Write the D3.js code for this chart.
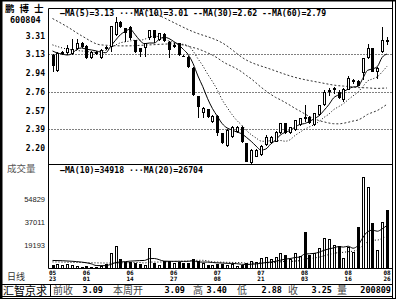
<!DOCTYPE html>
<html><head><meta charset="utf-8">
<script src="https://cdn.jsdelivr.net/npm/d3@7"></script>
<style>html,body{margin:0;padding:0;background:#fff;} svg{display:block;}</style>
</head><body>
<svg id="c" width="400" height="300"></svg>
<script>
// ---- data ----
const opens  = [3.12,2.96,3.13,3.14,3.13,3.176,3.235,3.21,3.087,3.15,3.087,3.20,3.196,3.317,3.449,3.383,3.40,3.268,3.186,3.186,3.284,3.367,3.268,3.327,3.25,3.20,3.235,3.11,3.10,2.988,2.715,2.544,2.584,2.462,2.518,2.347,2.22,2.314,2.363,2.413,2.248,2.05,2.117,2.133,2.232,2.248,2.265,2.347,2.446,2.347,2.38,2.43,2.51,2.51,2.43,2.528,2.627,2.76,2.78,2.758,2.676,2.775,2.85,2.866,2.94,3.087,3.186,2.955,3.153,3.27];
const highs  = [3.13,3.15,3.16,3.22,3.28,3.274,3.25,3.22,3.16,3.16,3.18,3.21,3.41,3.492,3.46,3.39,3.41,3.27,3.19,3.24,3.37,3.37,3.34,3.34,3.26,3.24,3.24,3.12,3.11,3.0,2.72,2.61,2.59,2.53,2.53,2.35,2.39,2.42,2.42,2.42,2.25,2.19,2.19,2.23,2.33,2.32,2.37,2.45,2.45,2.41,2.48,2.50,2.63,2.52,2.55,2.63,2.77,2.79,2.80,2.77,2.79,2.91,2.88,2.87,3.09,3.23,3.19,3.00,3.40,3.30];
const lows   = [2.955,2.95,3.12,3.12,3.12,3.17,3.19,3.08,3.08,3.12,3.08,3.17,3.15,3.31,3.39,3.25,3.27,3.14,3.103,3.103,3.27,3.235,3.26,3.25,3.087,3.19,3.11,3.10,2.99,2.72,2.495,2.495,2.50,2.45,2.32,2.24,2.21,2.30,2.35,2.25,2.06,2.035,2.11,2.12,2.22,2.24,2.26,2.34,2.34,2.34,2.37,2.42,2.46,2.44,2.42,2.52,2.62,2.72,2.74,2.69,2.66,2.77,2.83,2.81,2.87,3.08,2.95,2.88,3.14,3.22];
const closes = [3.011,3.136,3.15,3.186,3.176,3.235,3.20,3.087,3.153,3.128,3.17,3.176,3.406,3.449,3.40,3.334,3.284,3.153,3.153,3.235,3.367,3.284,3.334,3.26,3.17,3.22,3.12,3.105,3.005,2.725,2.61,2.594,2.51,2.518,2.347,2.248,2.38,2.413,2.413,2.265,2.067,2.18,2.18,2.22,2.314,2.314,2.363,2.446,2.347,2.406,2.479,2.495,2.49,2.45,2.544,2.627,2.758,2.77,2.79,2.692,2.78,2.89,2.87,2.814,3.087,3.186,2.955,2.988,3.268,3.25];
const volumes = [4100,4600,4100,4600,4100,3300,2800,3550,2800,2800,3300,4860,13150,18800,8500,6400,6400,5900,4860,4100,17250,5900,4100,7450,7450,5900,6400,5400,5400,8500,7450,5400,4100,4100,4860,4600,4100,4600,3300,4100,5400,7450,6700,9300,10000,8500,10000,13150,11830,8500,13150,11050,29900,11830,13150,17250,24800,24000,19580,18800,9280,17800,14400,33300,72500,64700,36400,15700,37600,46700];

// moving-average values read at the left edge, before a full window exists
const ma5Lead  = [[0,3.16],[1,3.14],[2,3.13],[3,3.12]];
const ma10Lead = [[0,3.22],[2,3.19],[4,3.17],[6,3.16],[8,3.15]];
const ma30Lead = [[0,3.48],[3,3.40],[6,3.31],[10,3.22],[15,3.21],[20,3.22],[25,3.23]];
const ma60Lead = [[0,3.75],[10,3.68],[20,3.55],[29,3.35],[35,3.24],[40,3.07],[45,2.98],[50,2.90],[55,2.85]];
const volMa10Lead = [[0,7600],[4,7000],[8,5000]];
const volMa20Lead = [[0,6500],[6,6000],[12,5600],[18,6000]];

const priceTicks = [3.31,3.13,2.94,2.76,2.57,2.39,2.20];
const priceGrid  = [3.13,2.76,2.39];
const volTicks   = [54829,37011,19193];
const volBase    = 1375;
const dateLabels = [["05","23",0],["06","01",7],["06","14",16],["06","27",25],["07","08",34],["07","21",43],["08","03",52],["08","16",61],["08","26",69]];

const stockName = "鹏博士";
const stockCode = "600804";
const priceLegend = "—MA(5)=3.13 ···MA(10)=3.01 --MA(30)=2.62 --MA(60)=2.79";
const volLegend = "—MA(10)=34918 ···MA(20)=26704";
const infoItems = [["前收",53,"3.09",103],["本周开",113,"3.09",185],["高",193,"3.40",227],["低",237,"2.88",282],["收",288,"3.25",332],["量",337,"200809",391]];

// ---- layout ----
const L = 48.5, R = 392.5, T = 8.5, SEP = 164.5, VB = 268.5;
const svg = d3.select("#c");
const n = closes.length;
const x = d3.scaleLinear().domain([0, n - 1]).range([52.5, 387]);
const yP = d3.scaleLinear().domain([2.39, 3.13]).range([129, 54]);
const yV = d3.scaleLinear().domain([volBase, 54829]).range([VB, 199.5]);
const mono = "'DejaVu Sans Mono', monospace";
const cjk = "'Noto Sans CJK SC', sans-serif";

const defs = svg.append("defs");
defs.append("clipPath").attr("id","cp").append("rect").attr("x",L+0.5).attr("y",T+0.5).attr("width",R-L-1).attr("height",SEP-T-1);
defs.append("clipPath").attr("id","cv").append("rect").attr("x",L+0.5).attr("y",SEP+0.5).attr("width",R-L-1).attr("height",VB-SEP-1);

// frame
svg.append("rect").attr("x",0).attr("y",0).attr("width",400).attr("height",300).attr("fill","#fff");
svg.append("rect").attr("x",0).attr("y",0).attr("width",2.5).attr("height",299).attr("fill","#000");
svg.append("line").attr("x1",0).attr("x2",396).attr("y1",0.75).attr("y2",0.75).attr("stroke","#000").attr("stroke-width",1.5);
svg.append("line").attr("x1",0).attr("x2",396).attr("y1",298.5).attr("y2",298.5).attr("stroke","#000");
[R, 395.5].forEach(v => svg.append("line").attr("x1",v).attr("x2",v).attr("y1",0).attr("y2",299).attr("stroke","#000"));
svg.append("line").attr("x1",L).attr("x2",L).attr("y1",T).attr("y2",VB).attr("stroke","#000");
[T, SEP, VB].forEach(v => svg.append("line").attr("x1",L).attr("x2",R).attr("y1",v).attr("y2",v).attr("stroke","#000"));

// grid
const gp = svg.append("g").attr("clip-path","url(#cp)");
priceGrid.forEach(p => {
  const yy = Math.round(yP(p)) + 0.5;
  gp.append("line").attr("x1",L).attr("x2",R).attr("y1",yy).attr("y2",yy).attr("stroke","#000").attr("stroke-dasharray","1,2");
});

// price labels
svg.append("text").attr("x",5).attr("y",11.5).attr("font-family",cjk).attr("font-size",9.5).attr("font-weight","bold").attr("letter-spacing",5).attr("fill","#000").text(stockName);
svg.append("text").attr("x",10).attr("y",23).attr("font-family",mono).attr("font-size",8.5).attr("font-weight","bold").attr("fill","#000").text(stockCode);
priceTicks.forEach(p => {
  svg.append("text").attr("x",45).attr("y",yP(p)+3).attr("text-anchor","end").attr("font-family",mono).attr("font-size",8).attr("font-weight","bold").attr("fill","#000").text(p.toFixed(2));
});
svg.append("text").attr("x",60).attr("y",15.5).attr("font-family",mono).attr("font-size",8.2).attr("font-weight","bold").attr("fill","#000").text(priceLegend);

// moving averages
function movAvg(arr, w, lead) {
  const pts = lead.map(d => ({i:d[0], v:d[1]}));
  for (let i = w - 1; i < arr.length; i++) {
    pts.push({i, v: d3.mean(arr.slice(i - w + 1, i + 1))});
  }
  return pts;
}
function drawLine(g, pts, ys, dash, color) {
  const ln = d3.line().x(d => x(d.i)).y(d => ys(d.v)).curve(d3.curveMonotoneX);
  const p = g.append("path").attr("d", ln(pts)).attr("fill","none").attr("stroke",color).attr("stroke-width",1);
  if (dash) p.attr("stroke-dasharray", dash);
}
drawLine(gp, movAvg(closes, 60, ma60Lead), yP, "2,2", "#333");
drawLine(gp, movAvg(closes, 30, ma30Lead), yP, "2,2", "#333");
drawLine(gp, movAvg(closes, 10, ma10Lead), yP, "1,2", "#000");
drawLine(gp, movAvg(closes, 5, ma5Lead), yP, null, "#000");

// candles
const cx = i => Math.round(x(i));
for (let i = 0; i < n; i++) {
  const c = cx(i), up = closes[i] >= opens[i];
  gp.append("line").attr("x1",c+0.5).attr("x2",c+0.5).attr("y1",Math.round(yP(highs[i]))).attr("y2",Math.round(yP(lows[i]))).attr("stroke","#000");
  const top = Math.round(yP(Math.max(opens[i],closes[i])));
  const bot = Math.max(top + 1, Math.round(yP(Math.min(opens[i],closes[i]))));
  if (up) {
    gp.append("rect").attr("x",c-0.5).attr("y",top+0.5).attr("width",2).attr("height",Math.max(1,bot-top-1)).attr("fill","#fff").attr("stroke","#000");
  } else {
    gp.append("rect").attr("x",c-1).attr("y",top).attr("width",3).attr("height",bot-top).attr("fill","#000");
  }
}

// volume panel
const gv = svg.append("g").attr("clip-path","url(#cv)");
for (let i = 0; i < n; i++) {
  const c = cx(i), up = closes[i] >= opens[i];
  const top = Math.round(yV(volumes[i]));
  if (up) {
    gv.append("rect").attr("x",c-0.5).attr("y",top+0.5).attr("width",2).attr("height",Math.max(1,VB-top-0.5)).attr("fill","#fff").attr("stroke","#000");
  } else {
    gv.append("rect").attr("x",c-1).attr("y",top).attr("width",3).attr("height",VB-top).attr("fill","#000");
  }
}
drawLine(gv, movAvg(volumes, 20, volMa20Lead), yV, "1,2", "#000");
drawLine(gv, movAvg(volumes, 10, volMa10Lead), yV, null, "#000");

svg.append("text").attr("x",7).attr("y",172).attr("font-family",cjk).attr("font-size",9.5).attr("fill","#555").text("成交量");
svg.append("text").attr("x",60).attr("y",173).attr("font-family",mono).attr("font-size",8.2).attr("font-weight","bold").attr("fill","#000").text(volLegend);
volTicks.forEach(v => {
  svg.append("text").attr("x",45).attr("y",yV(v)+2.5).attr("text-anchor","end").attr("font-family","'Liberation Sans', sans-serif").attr("font-size",7.5).attr("fill","#222").text(v);
});

// dates
svg.append("text").attr("x",7).attr("y",280).attr("font-family",cjk).attr("font-size",9).attr("fill","#333").text("日线");
dateLabels.forEach(d => {
  const xx = Math.min(x(d[2]), 390);
  svg.append("text").attr("x",xx).attr("y",275).attr("text-anchor","middle").attr("font-family",mono).attr("font-size",6).attr("font-weight","bold").attr("fill","#000").text(d[0]);
  svg.append("text").attr("x",xx).attr("y",280.5).attr("text-anchor","middle").attr("font-family",mono).attr("font-size",6).attr("font-weight","bold").attr("fill","#000").text(d[1]);
});

// info bar
svg.append("line").attr("x1",2).attr("x2",R).attr("y1",284.5).attr("y2",284.5).attr("stroke","#000");
svg.append("line").attr("x1",2).attr("x2",R).attr("y1",296.5).attr("y2",296.5).attr("stroke","#000");
svg.append("line").attr("x1",50.5).attr("x2",50.5).attr("y1",284.5).attr("y2",296.5).attr("stroke","#000");
svg.append("text").attr("x",3).attr("y",294.5).attr("font-family",cjk).attr("font-size",11).attr("fill","#000").text("汇智京求");
infoItems.forEach(d => {
  svg.append("text").attr("x",d[1]).attr("y",294).attr("font-family",cjk).attr("font-size",10).attr("fill","#444").text(d[0]);
  svg.append("text").attr("x",d[3]).attr("y",293).attr("text-anchor","end").attr("font-family",mono).attr("font-size",8.5).attr("font-weight","bold").attr("fill","#000").text(d[2]);
});
</script>
</body></html>
